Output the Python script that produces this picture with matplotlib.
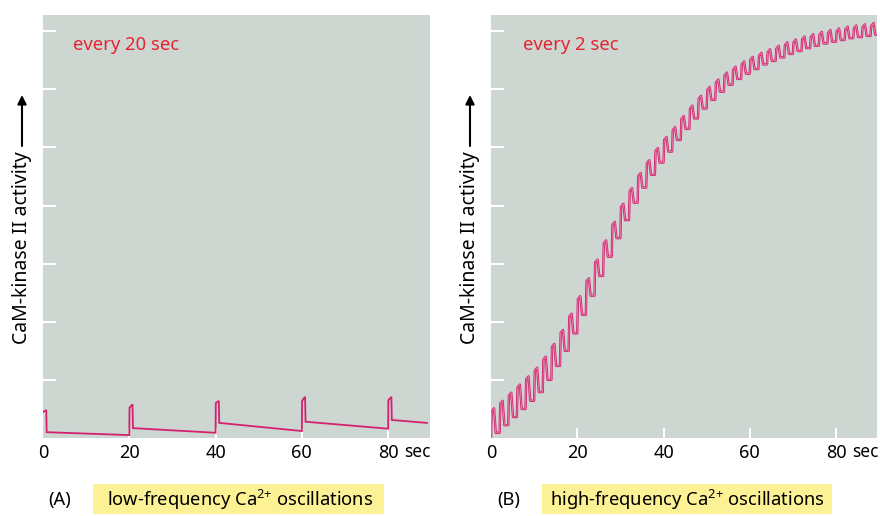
import numpy as np
import matplotlib
matplotlib.use("Agg")
import matplotlib.pyplot as plt
from matplotlib.patches import Rectangle

plt.rcParams['font.family'] = ['Noto Sans', 'DejaVu Sans']

# ---- data: panel A (one Ca2+ pulse every 20 sec) ----
a_pulse_t = [0, 20, 40, 60, 80]
a_base = [0.45, 0.05, 0.09, 0.12, 0.16]   # level just before each pulse
a_jump = [0.45, 0.52, 0.60, 0.64, 0.65]   # level right after the fast rise
a_peak = [0.48, 0.58, 0.64, 0.71, 0.71]   # level at end of pulse
a_after = [0.10, 0.17, 0.26, 0.28, 0.31]  # level right after the drop
a_end_t, a_end_v = 89.0, 0.26

# ---- data: panel B (one Ca2+ pulse every 2 sec) ----
b_pulse_t = list(range(0, 90, 2))
b_peak = [0.51, 0.64, 0.78, 0.92, 1.06, 1.21, 1.40, 1.62, 1.86, 2.14,
          2.44, 2.75, 3.07, 3.40, 3.72, 4.03, 4.30, 4.56, 4.78, 4.99,
          5.18, 5.35, 5.54, 5.72, 5.89, 6.04, 6.17, 6.29, 6.39, 6.48,
          6.56, 6.63, 6.69, 6.75, 6.81, 6.86, 6.91, 6.95, 6.99, 7.02,
          7.05, 7.08, 7.10, 7.12, 7.14]
b_trough = [0.09, 0.22, 0.36, 0.50, 0.64, 0.79, 1.00, 1.24, 1.50, 1.80,
            2.12, 2.45, 2.79, 3.12, 3.44, 3.75, 4.05, 4.31, 4.53, 4.74,
            4.93, 5.13, 5.32, 5.50, 5.67, 5.82, 5.96, 6.08, 6.18, 6.27,
            6.35, 6.43, 6.49, 6.55, 6.61, 6.66, 6.71, 6.75, 6.79, 6.82,
            6.85, 6.88, 6.90, 6.92, 6.94]
b_start_v = 0.0
b_end_t = 90.0

xticks = [0, 20, 40, 60, 80]
yticks = [1, 2, 3, 4, 5, 6, 7]

bg = '#cdd6d1'
line_col = '#d4226f'
red = '#e52530'
yellow = '#fcf195'

# build the traces
ta, va = [], []
for i, t in enumerate(a_pulse_t):
    ta += [t, t + 0.05, t + 0.75, t + 0.85]
    va += [a_base[i], a_jump[i], a_peak[i], a_after[i]]
ta.append(a_end_t)
va.append(a_end_v)

tb, vb = [0], [b_start_v]
prev = b_start_v
for i, t in enumerate(b_pulse_t):
    tb += [t, t + 0.15, t + 0.7, t + 1.1]
    vb += [prev, b_peak[i] - 0.05, b_peak[i], b_trough[i]]
    prev = b_trough[i]
tb.append(b_end_t)
vb.append(prev)

fig = plt.figure(figsize=(8.8, 5.16), dpi=100)
axA = fig.add_axes([43/880, 78/516, 387/880, 423/516])
axB = fig.add_axes([491/880, 78/516, 386/880, 423/516])

for ax, xmax in [(axA, 89.7), (axB, 89.5)]:
    ax.set_facecolor(bg)
    for s in ax.spines.values():
        s.set_visible(False)
    ax.set_xlim(0, xmax)
    ax.set_ylim(0, 7.28)
    ax.set_yticks(yticks)
    ax.set_yticklabels([])
    ax.set_xticks(xticks)
    ax.set_xticklabels([str(x) for x in xticks], fontsize=13)
    ax.tick_params(axis='y', direction='in', color='white', length=9.5, width=1.5)
    ax.tick_params(axis='x', direction='in', color='white', length=7, width=1.5, pad=4)
    ax.xaxis.get_major_ticks()[0].tick1line.set_visible(False)
    ax.text(83.8, -0.012, 'sec', transform=ax.get_xaxis_transform(),
            fontsize=12.5, ha='left', va='top')

axA.plot(ta, va, color=line_col, lw=1.3, solid_joinstyle='miter')
axB.plot(tb, vb, color=line_col, lw=1.7)
axB.plot(tb, vb, color='#e890b5', lw=0.5)

axA.text(7.0, 6.76, 'every 20 sec', color=red, fontsize=13.3, va='center')
axB.text(7.4, 6.76, 'every 2 sec', color=red, fontsize=13.3, va='center')

# y labels with arrows
for xp in [22, 470]:
    fig.text(xp/880, 1 - 248/516, 'CaM-kinase II activity', rotation=90,
             ha='center', va='center', fontsize=14)
    axA.annotate('', xy=(xp/880, 1 - 95/516), xytext=(xp/880, 1 - 146/516),
                 xycoords='figure fraction', textcoords='figure fraction',
                 arrowprops=dict(arrowstyle='-|>', color='black', lw=1.5,
                                 mutation_scale=13, shrinkA=0, shrinkB=0))

# panel captions
for x0, w in [(93, 291), (542, 290)]:
    fig.patches.append(Rectangle((x0/880, 1 - 514/516), w/880, 30/516,
                                 transform=fig.transFigure, fc=yellow, ec='none'))
fig.text(60/880, 1 - 500/516, '(A)', ha='center', va='center', fontsize=13.2)
fig.text(509/880, 1 - 500/516, '(B)', ha='center', va='center', fontsize=13.2)
fig.text(240/880, 1 - 500/516, 'low-frequency Ca$^{\\mathregular{2{+}}}$ oscillations',
         ha='center', va='center', fontsize=13.2)
fig.text(687/880, 1 - 500/516, 'high-frequency Ca$^{\\mathregular{2{+}}}$ oscillations',
         ha='center', va='center', fontsize=13.2)

fig.savefig('out.png', dpi=100)
